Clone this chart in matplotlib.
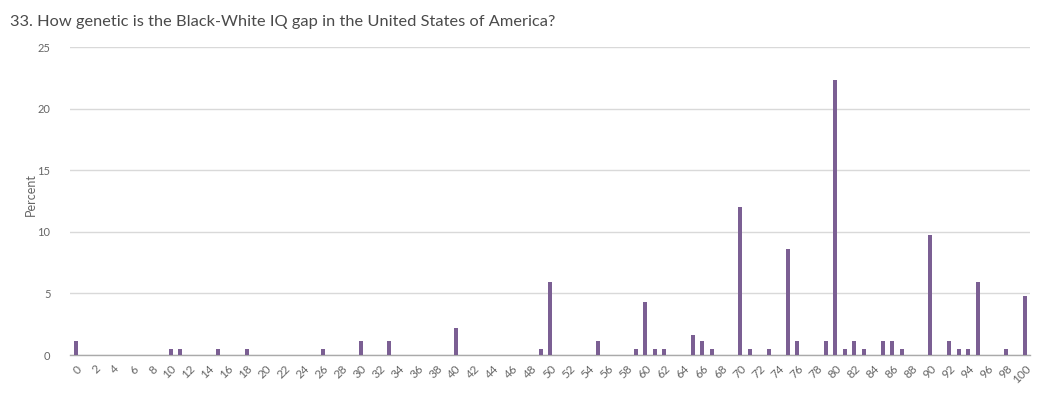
import numpy as np
import matplotlib
matplotlib.use("Agg")
import matplotlib.pyplot as plt

plt.rcParams['font.family'] = ['Lato', 'DejaVu Sans']

# answer value (0-100) and share of respondents in percent
answers = [0, 10, 11, 15, 18, 26, 30, 33, 40, 49, 50, 55, 59, 60, 61, 62,
           65, 66, 67, 70, 71, 73, 75, 76, 79, 80, 81, 82, 83, 85, 86, 87,
           90, 92, 93, 94, 95, 98, 100]
percent = [1.1, 0.5, 0.5, 0.5, 0.5, 0.5, 1.1, 1.1, 2.2, 0.5, 5.9, 1.1, 0.5, 4.3, 0.5, 0.5,
           1.6, 1.1, 0.5, 12.0, 0.5, 0.5, 8.6, 1.1, 1.1, 22.3, 0.5, 1.1, 0.5, 1.1, 1.1, 0.5,
           9.7, 1.1, 0.5, 0.5, 5.9, 0.5, 4.8]
xticks = list(range(0, 101, 2))
yticks = [0, 5, 10, 15, 20, 25]

title = "33. How genetic is the Black-White IQ gap in the United States of America?"

fig = plt.figure(figsize=(10.41, 3.98), dpi=100)
ax = fig.add_axes([70 / 1041, 1 - 355 / 398, 960 / 1041, 308 / 398])

ax.bar(answers, percent, width=0.42, color="#7b5f93", zorder=3)

ax.set_xlim(-0.6, 100.5)
ax.set_ylim(0, 25)
ax.set_yticks(yticks)
ax.set_xticks(xticks)
ax.set_xticklabels([str(v) for v in xticks], rotation=45, ha="right", va="top",
                   rotation_mode="anchor", fontsize=8.5, color="#666666")
ax.set_yticklabels([str(v) for v in yticks], fontsize=8, color="#666666")
ax.tick_params(axis="both", length=0)
ax.tick_params(axis="y", pad=14)
ax.tick_params(axis="x", pad=6)

ax.grid(axis="y", color="#d9d9d9", linewidth=1, zorder=0)
for s in ["top", "right", "left"]:
    ax.spines[s].set_visible(False)
ax.spines["bottom"].set_color("#aaaaaa")
ax.spines["bottom"].set_linewidth(1)

ax.set_ylabel("Percent", fontsize=9, color="#666666", labelpad=0)
ax.yaxis.set_label_coords(-33 / 960, 0.52)

fig.text(10 / 1041, 1 - 22 / 398, title, fontsize=11.8, color="#4a4a4a", va="center", ha="left")

fig.savefig("out.png", dpi=100)
